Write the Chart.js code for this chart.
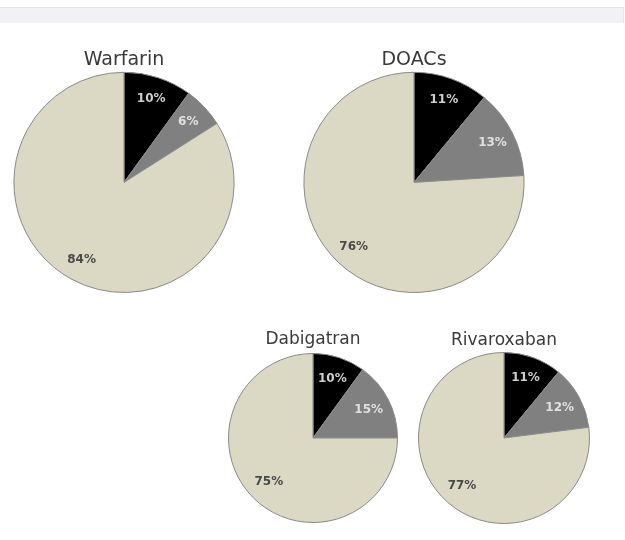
<!DOCTYPE html>
<html><head><meta charset="utf-8">
<script src="https://cdn.jsdelivr.net/npm/chart.js@4"></script>
<style>
html,body{margin:0;padding:0;background:#fff;width:625px;height:540px;overflow:hidden;position:relative;}
#band{position:absolute;left:0;top:7px;width:623px;height:15px;background:#f1f1f6;border-top:1px solid #e2e2e8;border-right:1px solid #e6e6ea;}
canvas{position:absolute;}
</style></head><body>
<div id="band"></div>
<canvas id="c0"></canvas>
<canvas id="c1"></canvas>
<canvas id="c2"></canvas>
<canvas id="c3"></canvas>
<script>
// ---- data ----
const categories = ['Segment 1', 'Segment 2', 'Segment 3'];
const chartTitles = ['Warfarin', 'DOACs', 'Dabigatran', 'Rivaroxaban'];
const warfarinValues = [10, 6, 84];
const doacsValues = [11, 13, 76];
const dabigatranValues = [10, 15, 75];
const rivaroxabanValues = [11, 12, 77];
const allValues = [warfarinValues, doacsValues, dabigatranValues, rivaroxabanValues];

// ---- styles ----
const sliceColors = ['#000000', '#808080', '#dbd8c4'];
const labelColors = ['#cfcfcf', '#e0e0e0', '#4a4a4a'];
const layouts = [
  {cx: 124, cy: 182, r: 110, ty: 60, fs: 19},
  {cx: 414, cy: 182, r: 110, ty: 60, fs: 19},
  {cx: 313, cy: 438, r: 84, ty: 339, fs: 17},
  {cx: 504, cy: 438, r: 85, ty: 340, fs: 17}
];

const sliceLabels = {
  id: 'sliceLabels',
  afterDatasetsDraw(chart) {
    const ctx = chart.ctx;
    const meta = chart.getDatasetMeta(0);
    const ds = chart.data.datasets[0];
    meta.data.forEach((arc, i) => {
      const p = arc.getProps(['x', 'y', 'startAngle', 'endAngle', 'outerRadius'], true);
      const mid = (p.startAngle + p.endAngle) / 2;
      const d = p.outerRadius - 22;
      ctx.save();
      ctx.font = 'bold 12px "DejaVu Sans"';
      ctx.fillStyle = labelColors[i];
      ctx.textAlign = 'center';
      ctx.textBaseline = 'middle';
      ctx.fillText(ds.data[i] + '%', p.x + Math.cos(mid) * d, p.y + Math.sin(mid) * d);
      ctx.restore();
    });
  }
};

allValues.forEach((vals, k) => {
  const L = layouts[k];
  const padTop = 2;
  const top = Math.round(L.ty - L.fs * 0.6 - padTop);
  const areaTop = L.cy - L.r - 1;
  const padBottom = Math.max(0, areaTop - top - padTop - L.fs * 1.2);
  const w = 2 * L.r + 2;
  const h = (L.cy + L.r + 1) - top;
  const cv = document.getElementById('c' + k);
  cv.width = w; cv.height = h;
  cv.style.width = w + 'px'; cv.style.height = h + 'px';
  cv.style.left = (L.cx - L.r - 1) + 'px';
  cv.style.top = top + 'px';
  new Chart(cv, {
    type: 'pie',
    data: {
      labels: categories,
      datasets: [{
        data: vals,
        backgroundColor: sliceColors,
        borderColor: '#8a8a8a',
        borderWidth: 1
      }]
    },
    options: {
      responsive: false,
      animation: false,
      layout: {padding: 0},
      plugins: {
        legend: {display: false},
        tooltip: {enabled: false},
        title: {
          display: true,
          text: chartTitles[k],
          color: '#3a3a3a',
          font: {family: '"DejaVu Sans"', size: L.fs, weight: 'normal', lineHeight: 1.2},
          padding: {top: padTop, bottom: padBottom}
        }
      }
    },
    plugins: [sliceLabels]
  });
});
</script>
</body></html>
